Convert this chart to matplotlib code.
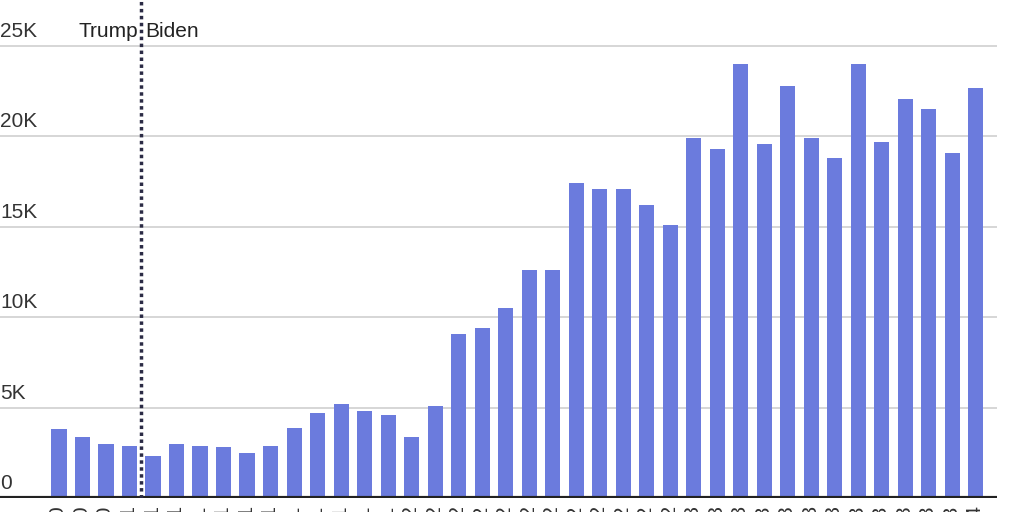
import matplotlib
matplotlib.use("Agg")
import matplotlib.pyplot as plt
import numpy as np

months = ["Oct 2020", "Nov 2020", "Dec 2020",
          "Jan 2021", "Feb 2021", "Mar 2021", "Apr 2021", "May 2021", "Jun 2021",
          "Jul 2021", "Aug 2021", "Sep 2021", "Oct 2021", "Nov 2021", "Dec 2021",
          "Jan 2022", "Feb 2022", "Mar 2022", "Apr 2022", "May 2022", "Jun 2022",
          "Jul 2022", "Aug 2022", "Sep 2022", "Oct 2022", "Nov 2022", "Dec 2022",
          "Jan 2023", "Feb 2023", "Mar 2023", "Apr 2023", "May 2023", "Jun 2023",
          "Jul 2023", "Aug 2023", "Sep 2023", "Oct 2023", "Nov 2023", "Dec 2023",
          "Jan 2024"]
counts = [3800, 3400, 3000, 2900, 2300, 3000, 2900, 2800, 2500, 2900,
          3900, 4700, 5200, 4800, 4600, 3400, 5100, 9100, 9400, 10500,
          12600, 12600, 17400, 17100, 17100, 16200, 15100, 19900, 19300, 24000,
          19600, 22800, 19900, 18800, 24000, 19700, 22100, 21500, 19100, 22700]
yticks = [0, 5000, 10000, 15000, 20000, 25000]
ytick_labels = ["0", "5K", "10K", "15K", "20K", "25K"]

plt.rcParams['font.family'] = ['Liberation Sans', 'DejaVu Sans']

fig = plt.figure(figsize=(10.24, 5.12), dpi=100)
ax = fig.add_axes([0, 14 / 512, 997 / 1024, 498 / 512])

x = np.arange(len(counts))
ax.bar(x, counts, width=0.64, color="#6b7bdd", zorder=2)

ax.set_xlim(-2.51, 39.91)
ax.set_ylim(0, 27550)

# gridlines with labels sitting above them at the left edge
for v, lab in zip(yticks, ytick_labels):
    if v > 0:
        ax.axhline(v, color="#d0d0d0", lw=1.2, zorder=1)
    ax.text(0.0, v + 280, lab, transform=ax.get_yaxis_transform(),
            ha="left", va="bottom", fontsize=15, color="#333333")
ax.axhline(0, color="#222222", lw=3, zorder=3)

# administration change
ax.axvline(3.5, color="#2b2b45", lw=2.5, linestyle=(0, (1, 1)), zorder=4)
ax.text(3.5 - 0.15, 25280, "Trump", ha="right", va="bottom", fontsize=15, color="#222222")
ax.text(3.5 + 0.15, 25280, "Biden", ha="left", va="bottom", fontsize=15, color="#222222")

ax.set_xticks(x)
ax.set_xticklabels(months, rotation=90, fontsize=15, color="#333333")
ax.tick_params(axis="x", length=0, pad=6)
ax.set_yticks([])
for s in ax.spines.values():
    s.set_visible(False)

fig.savefig("out.png", dpi=100)
